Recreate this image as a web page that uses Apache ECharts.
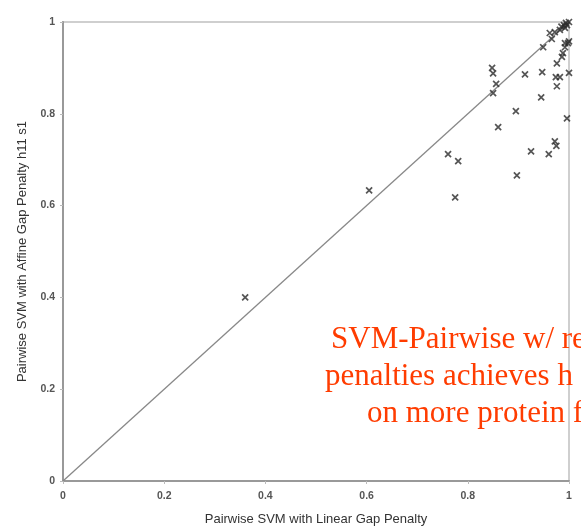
<!DOCTYPE html>
<html>
<head>
<meta charset="utf-8">
<script src="https://cdn.jsdelivr.net/npm/echarts@6/dist/echarts.min.js"></script>
<style>
  html, body { margin: 0; padding: 0; background: #fff; }
  #main { width: 581px; height: 529px; }
</style>
</head>
<body>
<div id="main"></div>
<script>
// tick labels
var xTicks = [0, 0.2, 0.4, 0.6, 0.8, 1];
var yTicks = [0, 0.2, 0.4, 0.6, 0.8, 1];

// linear gap penalty score (x) / affine gap penalty score (y), one entry per family
var linearScore = [0.36, 0.605, 0.775, 0.761, 0.781, 0.86, 0.897, 0.925, 0.96, 0.972,
                   0.975, 0.848, 0.85, 0.856, 0.85, 0.913, 0.947, 0.945, 0.895, 0.996,
                   0.974, 0.982, 0.976, 1.0, 0.976, 0.986, 0.988, 0.949, 0.966, 0.962,
                   0.972, 0.982, 0.992, 0.99, 0.996, 1.0, 0.998, 0.992, 1.0, 0.992,
                   0.994, 0.985];
var affineScore = [0.40, 0.633, 0.618, 0.712, 0.697, 0.771, 0.666, 0.718, 0.712, 0.74,
                   0.73, 0.90, 0.888, 0.865, 0.845, 0.886, 0.891, 0.836, 0.806, 0.79,
                   0.88, 0.88, 0.86, 0.889, 0.91, 0.924, 0.932, 0.945, 0.963, 0.976,
                   0.978, 0.983, 0.987, 0.993, 0.993, 1.0, 0.954, 0.954, 0.958, 0.945,
                   0.998, 0.99];

// y = x reference line
var diagX = [0, 1];
var diagY = [0, 1];

var noteLines = ['SVM-Pairwise w/ re', 'penalties achieves h', 'on more protein f'];

var points = linearScore.map(function(x, i){ return [x, affineScore[i]]; });
var diag = diagX.map(function(x, i){ return [x, diagY[i]]; });

var chart = echarts.init(document.getElementById('main'));

var sans = '"Liberation Sans", Arial, sans-serif';
var labelStyle = {
  color: '#555',
  fontSize: 10.5,
  fontWeight: 'bold',
  fontFamily: sans
};
var nameStyle = { color: '#333', fontSize: 13, fontFamily: sans };
var noteFont = '31px "Liberation Serif", "Times New Roman", serif';

var option = {
  animation: false,
  backgroundColor: '#fff',
  grid: {
    left: 63, right: 12, top: 22, bottom: 48,
    outerBoundsMode: 'none',
    containLabel: false,
    show: true,
    borderColor: '#cfcfcf',
    borderWidth: 2,
    backgroundColor: '#fff'
  },
  xAxis: {
    type: 'value',
    min: xTicks[0],
    max: xTicks[xTicks.length - 1],
    interval: 0.2,
    name: 'Pairwise SVM with Linear Gap Penalty',
    nameLocation: 'middle',
    nameGap: 32,
    nameTextStyle: nameStyle,
    splitLine: { show: false },
    axisLine: { lineStyle: { color: '#999', width: 2 } },
    axisTick: { length: 3, lineStyle: { color: '#bbb' } },
    axisLabel: Object.assign({ margin: 10 }, labelStyle)
  },
  yAxis: {
    type: 'value',
    min: yTicks[0],
    max: yTicks[yTicks.length - 1],
    interval: 0.2,
    name: 'Pairwise SVM with Affine Gap Penalty h11 s1',
    nameLocation: 'middle',
    nameGap: 34,
    nameTextStyle: nameStyle,
    splitLine: { show: false },
    axisLine: { lineStyle: { color: '#999', width: 2 } },
    axisTick: { length: 3, lineStyle: { color: '#bbb' } },
    axisLabel: Object.assign({ margin: 8 }, labelStyle)
  },
  series: [
    {
      type: 'line',
      data: diag,
      symbol: 'none',
      lineStyle: { color: '#888', width: 1.3 },
      z: 2
    },
    {
      type: 'scatter',
      data: points,
      symbol: 'path://M0,0L10,10M0,10L10,0',
      symbolSize: 6,
      itemStyle: { color: 'transparent', borderColor: '#2a2a2a', borderWidth: 1.7 },
      z: 3
    }
  ],
  graphic: [
    { type: 'text', left: 331, top: 324, z: 100,
      style: { text: noteLines[0], fill: '#ff3c00', font: noteFont } },
    { type: 'text', left: 325, top: 361, z: 100,
      style: { text: noteLines[1], fill: '#ff3c00', font: noteFont } },
    { type: 'text', left: 367, top: 398, z: 100,
      style: { text: noteLines[2], fill: '#ff3c00', font: noteFont } }
  ]
};

chart.setOption(option);
</script>
</body>
</html>
